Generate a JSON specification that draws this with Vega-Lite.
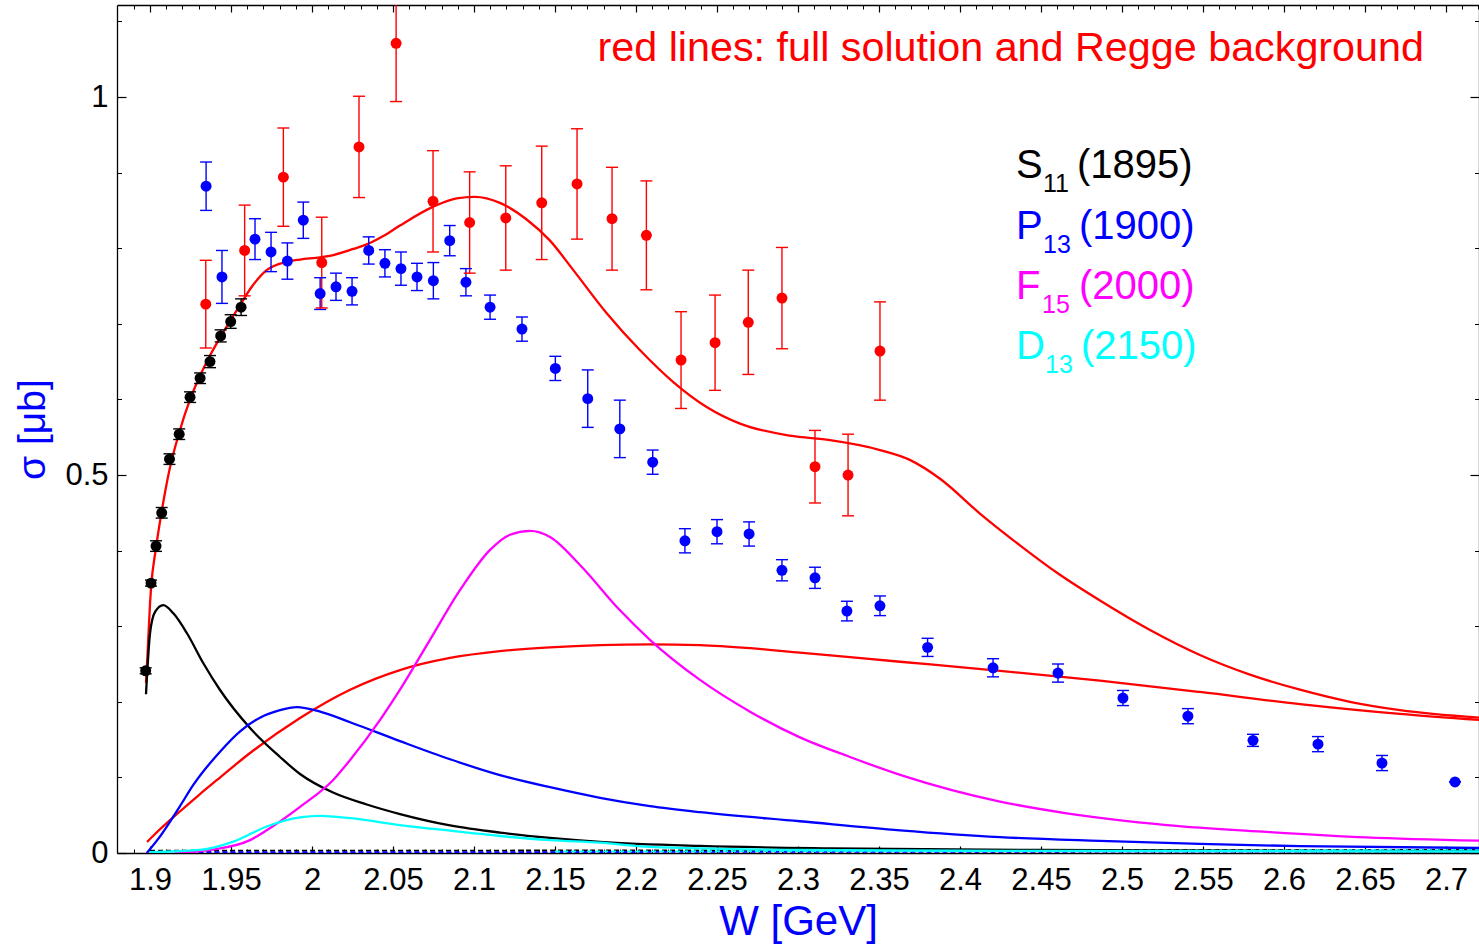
{
  "$schema": "https://vega.github.io/schema/vega-lite/v6.json",
  "width": 1362,
  "height": 848,
  "autosize": {"type": "none"},
  "padding": {"left": 117, "top": 5, "right": 0, "bottom": 91},
  "background": "white",
  "config": {
    "view": {"stroke": null},
    "axis": {"grid": false, "labelFont": "Liberation Sans", "titleFont": "Liberation Sans", "domainColor": "black", "tickColor": "black", "labelColor": "black"},
    "text": {"font": "Liberation Sans"}
  },
  "datasets": {
    "axisdummy": [{"W": 2.0, "sigma": 0.5}],
    "curves": [
      {"series": "full", "W": 1.8975, "sigma": 0.225},
      {"series": "full", "W": 1.8985, "sigma": 0.265},
      {"series": "full", "W": 1.9, "sigma": 0.33},
      {"series": "full", "W": 1.9006, "sigma": 0.35},
      {"series": "full", "W": 1.9037, "sigma": 0.404},
      {"series": "full", "W": 1.9072, "sigma": 0.452},
      {"series": "full", "W": 1.912, "sigma": 0.507},
      {"series": "full", "W": 1.918, "sigma": 0.556},
      {"series": "full", "W": 1.9247, "sigma": 0.6},
      {"series": "full", "W": 1.931, "sigma": 0.632},
      {"series": "full", "W": 1.937, "sigma": 0.658},
      {"series": "full", "W": 1.9436, "sigma": 0.683},
      {"series": "full", "W": 1.9498, "sigma": 0.705},
      {"series": "full", "W": 1.9562, "sigma": 0.727},
      {"series": "full", "W": 1.9628, "sigma": 0.749},
      {"series": "full", "W": 1.972, "sigma": 0.771},
      {"series": "full", "W": 1.9844, "sigma": 0.782},
      {"series": "full", "W": 1.9926, "sigma": 0.785},
      {"series": "full", "W": 2.005, "sigma": 0.788},
      {"series": "full", "W": 2.0132, "sigma": 0.791},
      {"series": "full", "W": 2.0255, "sigma": 0.799},
      {"series": "full", "W": 2.0338, "sigma": 0.805},
      {"series": "full", "W": 2.044, "sigma": 0.816},
      {"series": "full", "W": 2.0543, "sigma": 0.83},
      {"series": "full", "W": 2.0749, "sigma": 0.855},
      {"series": "full", "W": 2.0893, "sigma": 0.866},
      {"series": "full", "W": 2.1006, "sigma": 0.868},
      {"series": "full", "W": 2.116, "sigma": 0.86},
      {"series": "full", "W": 2.1325, "sigma": 0.838},
      {"series": "full", "W": 2.1469, "sigma": 0.81},
      {"series": "full", "W": 2.1613, "sigma": 0.771},
      {"series": "full", "W": 2.1819, "sigma": 0.714},
      {"series": "full", "W": 2.2025, "sigma": 0.665},
      {"series": "full", "W": 2.223, "sigma": 0.623},
      {"series": "full", "W": 2.2436, "sigma": 0.59},
      {"series": "full", "W": 2.2642, "sigma": 0.568},
      {"series": "full", "W": 2.295, "sigma": 0.552},
      {"series": "full", "W": 2.3198, "sigma": 0.546},
      {"series": "full", "W": 2.3506, "sigma": 0.533},
      {"series": "full", "W": 2.369, "sigma": 0.52},
      {"series": "full", "W": 2.3877, "sigma": 0.495},
      {"series": "full", "W": 2.4123, "sigma": 0.449},
      {"series": "full", "W": 2.437, "sigma": 0.407},
      {"series": "full", "W": 2.4617, "sigma": 0.368},
      {"series": "full", "W": 2.4864, "sigma": 0.334},
      {"series": "full", "W": 2.5173, "sigma": 0.295},
      {"series": "full", "W": 2.5481, "sigma": 0.262},
      {"series": "full", "W": 2.579, "sigma": 0.236},
      {"series": "full", "W": 2.6099, "sigma": 0.216},
      {"series": "full", "W": 2.6407, "sigma": 0.2},
      {"series": "full", "W": 2.6716, "sigma": 0.189},
      {"series": "full", "W": 2.7204, "sigma": 0.179},

      {"series": "Regge", "W": 1.89815, "sigma": 0.0146},
      {"series": "Regge", "W": 1.90309, "sigma": 0.0251},
      {"series": "Regge", "W": 1.91667, "sigma": 0.0516},
      {"series": "Regge", "W": 1.93086, "sigma": 0.078},
      {"series": "Regge", "W": 1.94136, "sigma": 0.0966},
      {"series": "Regge", "W": 1.96173, "sigma": 0.1323},
      {"series": "Regge", "W": 1.99259, "sigma": 0.1786},
      {"series": "Regge", "W": 2.0235, "sigma": 0.216},
      {"series": "Regge", "W": 2.0543, "sigma": 0.242},
      {"series": "Regge", "W": 2.0852, "sigma": 0.258},
      {"series": "Regge", "W": 2.116, "sigma": 0.267},
      {"series": "Regge", "W": 2.1469, "sigma": 0.272},
      {"series": "Regge", "W": 2.1778, "sigma": 0.275},
      {"series": "Regge", "W": 2.2086, "sigma": 0.276},
      {"series": "Regge", "W": 2.2395, "sigma": 0.275},
      {"series": "Regge", "W": 2.2704, "sigma": 0.271},
      {"series": "Regge", "W": 2.3012, "sigma": 0.265},
      {"series": "Regge", "W": 2.3321, "sigma": 0.259},
      {"series": "Regge", "W": 2.363, "sigma": 0.253},
      {"series": "Regge", "W": 2.4247, "sigma": 0.241},
      {"series": "Regge", "W": 2.4864, "sigma": 0.228},
      {"series": "Regge", "W": 2.5481, "sigma": 0.213},
      {"series": "Regge", "W": 2.6099, "sigma": 0.197},
      {"series": "Regge", "W": 2.6716, "sigma": 0.184},
      {"series": "Regge", "W": 2.7204, "sigma": 0.176},

      {"series": "S11", "W": 1.8975, "sigma": 0.21},
      {"series": "S11", "W": 1.9, "sigma": 0.291},
      {"series": "S11", "W": 1.9031, "sigma": 0.319},
      {"series": "S11", "W": 1.9082, "sigma": 0.328},
      {"series": "S11", "W": 1.9144, "sigma": 0.317},
      {"series": "S11", "W": 1.9227, "sigma": 0.291},
      {"series": "S11", "W": 1.9329, "sigma": 0.251},
      {"series": "S11", "W": 1.94321, "sigma": 0.2156},
      {"series": "S11", "W": 1.96173, "sigma": 0.1653},
      {"series": "S11", "W": 1.98025, "sigma": 0.127},
      {"series": "S11", "W": 1.99259, "sigma": 0.1045},
      {"series": "S11", "W": 2.01296, "sigma": 0.08},
      {"series": "S11", "W": 2.03333, "sigma": 0.0645},
      {"series": "S11", "W": 2.05432, "sigma": 0.0515},
      {"series": "S11", "W": 2.08519, "sigma": 0.0365},
      {"series": "S11", "W": 2.11605, "sigma": 0.027},
      {"series": "S11", "W": 2.14691, "sigma": 0.02},
      {"series": "S11", "W": 2.17778, "sigma": 0.0148},
      {"series": "S11", "W": 2.23951, "sigma": 0.0093},
      {"series": "S11", "W": 2.32, "sigma": 0.006},
      {"series": "S11", "W": 2.45, "sigma": 0.004},
      {"series": "S11", "W": 2.7204, "sigma": 0.002},

      {"series": "P13", "W": 1.898, "sigma": 0.0},
      {"series": "P13", "W": 1.9062, "sigma": 0.022},
      {"series": "P13", "W": 1.9185, "sigma": 0.062},
      {"series": "P13", "W": 1.9267, "sigma": 0.09},
      {"series": "P13", "W": 1.9432, "sigma": 0.134},
      {"series": "P13", "W": 1.9556, "sigma": 0.161},
      {"series": "P13", "W": 1.9679, "sigma": 0.179},
      {"series": "P13", "W": 1.9802, "sigma": 0.189},
      {"series": "P13", "W": 1.9907, "sigma": 0.193},
      {"series": "P13", "W": 2.005, "sigma": 0.187},
      {"series": "P13", "W": 2.0235, "sigma": 0.173},
      {"series": "P13", "W": 2.0543, "sigma": 0.148},
      {"series": "P13", "W": 2.0852, "sigma": 0.124},
      {"series": "P13", "W": 2.116, "sigma": 0.103},
      {"series": "P13", "W": 2.1469, "sigma": 0.087},
      {"series": "P13", "W": 2.1778, "sigma": 0.073},
      {"series": "P13", "W": 2.2086, "sigma": 0.062},
      {"series": "P13", "W": 2.2395, "sigma": 0.054},
      {"series": "P13", "W": 2.3012, "sigma": 0.042},
      {"series": "P13", "W": 2.363, "sigma": 0.03},
      {"series": "P13", "W": 2.4247, "sigma": 0.021},
      {"series": "P13", "W": 2.4864, "sigma": 0.016},
      {"series": "P13", "W": 2.5481, "sigma": 0.012},
      {"series": "P13", "W": 2.6099, "sigma": 0.009},
      {"series": "P13", "W": 2.7204, "sigma": 0.0066},

      {"series": "F15", "W": 1.915, "sigma": 0.0},
      {"series": "F15", "W": 1.937, "sigma": 0.004},
      {"series": "F15", "W": 1.9617, "sigma": 0.017},
      {"series": "F15", "W": 1.972, "sigma": 0.03},
      {"series": "F15", "W": 1.9926, "sigma": 0.061},
      {"series": "F15", "W": 2.0132, "sigma": 0.097},
      {"series": "F15", "W": 2.0235, "sigma": 0.123},
      {"series": "F15", "W": 2.042, "sigma": 0.176},
      {"series": "F15", "W": 2.0543, "sigma": 0.216},
      {"series": "F15", "W": 2.0728, "sigma": 0.282},
      {"series": "F15", "W": 2.0914, "sigma": 0.348},
      {"series": "F15", "W": 2.1099, "sigma": 0.401},
      {"series": "F15", "W": 2.1222, "sigma": 0.421},
      {"series": "F15", "W": 2.1346, "sigma": 0.426},
      {"series": "F15", "W": 2.1469, "sigma": 0.418},
      {"series": "F15", "W": 2.1654, "sigma": 0.381},
      {"series": "F15", "W": 2.1901, "sigma": 0.321},
      {"series": "F15", "W": 2.2086, "sigma": 0.282},
      {"series": "F15", "W": 2.2395, "sigma": 0.229},
      {"series": "F15", "W": 2.2704, "sigma": 0.187},
      {"series": "F15", "W": 2.3012, "sigma": 0.153},
      {"series": "F15", "W": 2.3321, "sigma": 0.127},
      {"series": "F15", "W": 2.365, "sigma": 0.102},
      {"series": "F15", "W": 2.4247, "sigma": 0.068},
      {"series": "F15", "W": 2.4659, "sigma": 0.0525},
      {"series": "F15", "W": 2.5276, "sigma": 0.037},
      {"series": "F15", "W": 2.5893, "sigma": 0.028},
      {"series": "F15", "W": 2.651, "sigma": 0.0207},
      {"series": "F15", "W": 2.7204, "sigma": 0.0163},

      {"series": "D13", "W": 1.9, "sigma": 0.001},
      {"series": "D13", "W": 1.9309, "sigma": 0.004},
      {"series": "D13", "W": 1.9514, "sigma": 0.015},
      {"series": "D13", "W": 1.972, "sigma": 0.035},
      {"series": "D13", "W": 1.9926, "sigma": 0.047},
      {"series": "D13", "W": 2.005, "sigma": 0.049},
      {"series": "D13", "W": 2.0235, "sigma": 0.046},
      {"series": "D13", "W": 2.0543, "sigma": 0.037},
      {"series": "D13", "W": 2.0852, "sigma": 0.0295},
      {"series": "D13", "W": 2.116, "sigma": 0.0225},
      {"series": "D13", "W": 2.1469, "sigma": 0.017},
      {"series": "D13", "W": 2.1778, "sigma": 0.0136},
      {"series": "D13", "W": 2.2086, "sigma": 0.008},
      {"series": "D13", "W": 2.3, "sigma": 0.004},
      {"series": "D13", "W": 2.4, "sigma": 0.003},
      {"series": "D13", "W": 2.7204, "sigma": 0.002}
    ],
    "dashed": [
      {"series": "S11o", "W": 1.9, "sigma": 0.003},
      {"series": "S11o", "W": 2.7204, "sigma": 0.004},
      {"series": "P13o", "W": 1.92, "sigma": 0.001},
      {"series": "P13o", "W": 2.7204, "sigma": 0.002},
      {"series": "D13o", "W": 2.15, "sigma": 0.002},
      {"series": "D13o", "W": 2.7204, "sigma": 0.004}
    ],
    "pts": [
      {"series": "dataBlack", "W": 1.8973, "sigma": 0.241, "lo": 0.237, "hi": 0.245},
      {"series": "dataBlack", "W": 1.9006, "sigma": 0.357, "lo": 0.353, "hi": 0.361},
      {"series": "dataBlack", "W": 1.9037, "sigma": 0.406, "lo": 0.399, "hi": 0.413},
      {"series": "dataBlack", "W": 1.9072, "sigma": 0.45, "lo": 0.443, "hi": 0.457},
      {"series": "dataBlack", "W": 1.912, "sigma": 0.521, "lo": 0.514, "hi": 0.528},
      {"series": "dataBlack", "W": 1.918, "sigma": 0.554, "lo": 0.547, "hi": 0.561},
      {"series": "dataBlack", "W": 1.9247, "sigma": 0.603, "lo": 0.596, "hi": 0.61},
      {"series": "dataBlack", "W": 1.9309, "sigma": 0.628, "lo": 0.621, "hi": 0.635},
      {"series": "dataBlack", "W": 1.937, "sigma": 0.65, "lo": 0.642, "hi": 0.658},
      {"series": "dataBlack", "W": 1.9436, "sigma": 0.684, "lo": 0.676, "hi": 0.692},
      {"series": "dataBlack", "W": 1.9498, "sigma": 0.703, "lo": 0.694, "hi": 0.712},
      {"series": "dataBlack", "W": 1.9562, "sigma": 0.722, "lo": 0.711, "hi": 0.733},

      {"series": "dataBlue", "W": 1.9346, "sigma": 0.882, "lo": 0.85, "hi": 0.914},
      {"series": "dataBlue", "W": 1.9444, "sigma": 0.762, "lo": 0.727, "hi": 0.797},
      {"series": "dataBlue", "W": 1.9648, "sigma": 0.812, "lo": 0.785, "hi": 0.839},
      {"series": "dataBlue", "W": 1.9747, "sigma": 0.795, "lo": 0.769, "hi": 0.821},
      {"series": "dataBlue", "W": 1.9848, "sigma": 0.783, "lo": 0.759, "hi": 0.807},
      {"series": "dataBlue", "W": 1.9946, "sigma": 0.837, "lo": 0.813, "hi": 0.861},
      {"series": "dataBlue", "W": 2.005, "sigma": 0.74, "lo": 0.719, "hi": 0.761},
      {"series": "dataBlue", "W": 2.0148, "sigma": 0.749, "lo": 0.731, "hi": 0.767},
      {"series": "dataBlue", "W": 2.0247, "sigma": 0.743, "lo": 0.725, "hi": 0.761},
      {"series": "dataBlue", "W": 2.035, "sigma": 0.797, "lo": 0.779, "hi": 0.815},
      {"series": "dataBlue", "W": 2.045, "sigma": 0.78, "lo": 0.762, "hi": 0.798},
      {"series": "dataBlue", "W": 2.0549, "sigma": 0.773, "lo": 0.751, "hi": 0.795},
      {"series": "dataBlue", "W": 2.0648, "sigma": 0.762, "lo": 0.744, "hi": 0.78},
      {"series": "dataBlue", "W": 2.0749, "sigma": 0.757, "lo": 0.733, "hi": 0.781},
      {"series": "dataBlue", "W": 2.085, "sigma": 0.81, "lo": 0.79, "hi": 0.83},
      {"series": "dataBlue", "W": 2.095, "sigma": 0.755, "lo": 0.737, "hi": 0.773},
      {"series": "dataBlue", "W": 2.1099, "sigma": 0.722, "lo": 0.706, "hi": 0.738},
      {"series": "dataBlue", "W": 2.1296, "sigma": 0.693, "lo": 0.677, "hi": 0.709},
      {"series": "dataBlue", "W": 2.1502, "sigma": 0.641, "lo": 0.625, "hi": 0.657},
      {"series": "dataBlue", "W": 2.1702, "sigma": 0.601, "lo": 0.563, "hi": 0.639},
      {"series": "dataBlue", "W": 2.19, "sigma": 0.561, "lo": 0.523, "hi": 0.599},
      {"series": "dataBlue", "W": 2.2103, "sigma": 0.517, "lo": 0.501, "hi": 0.533},
      {"series": "dataBlue", "W": 2.2302, "sigma": 0.413, "lo": 0.397, "hi": 0.429},
      {"series": "dataBlue", "W": 2.25, "sigma": 0.425, "lo": 0.409, "hi": 0.441},
      {"series": "dataBlue", "W": 2.2698, "sigma": 0.422, "lo": 0.406, "hi": 0.438},
      {"series": "dataBlue", "W": 2.2901, "sigma": 0.374, "lo": 0.36, "hi": 0.388},
      {"series": "dataBlue", "W": 2.3105, "sigma": 0.364, "lo": 0.35, "hi": 0.378},
      {"series": "dataBlue", "W": 2.3302, "sigma": 0.32, "lo": 0.307, "hi": 0.333},
      {"series": "dataBlue", "W": 2.3506, "sigma": 0.327, "lo": 0.314, "hi": 0.34},
      {"series": "dataBlue", "W": 2.38, "sigma": 0.272, "lo": 0.26, "hi": 0.284},
      {"series": "dataBlue", "W": 2.4204, "sigma": 0.245, "lo": 0.233, "hi": 0.257},
      {"series": "dataBlue", "W": 2.4605, "sigma": 0.238, "lo": 0.226, "hi": 0.25},
      {"series": "dataBlue", "W": 2.5006, "sigma": 0.205, "lo": 0.195, "hi": 0.215},
      {"series": "dataBlue", "W": 2.5407, "sigma": 0.181, "lo": 0.171, "hi": 0.191},
      {"series": "dataBlue", "W": 2.5809, "sigma": 0.149, "lo": 0.141, "hi": 0.157},
      {"series": "dataBlue", "W": 2.621, "sigma": 0.144, "lo": 0.134, "hi": 0.154},
      {"series": "dataBlue", "W": 2.6605, "sigma": 0.119, "lo": 0.109, "hi": 0.129},
      {"series": "dataBlue", "W": 2.7056, "sigma": 0.094, "lo": 0.094, "hi": 0.094},

      {"series": "dataRed", "W": 1.9344, "sigma": 0.726, "lo": 0.668, "hi": 0.784},
      {"series": "dataRed", "W": 1.9584, "sigma": 0.797, "lo": 0.737, "hi": 0.857},
      {"series": "dataRed", "W": 1.9823, "sigma": 0.894, "lo": 0.829, "hi": 0.959},
      {"series": "dataRed", "W": 2.006, "sigma": 0.781, "lo": 0.721, "hi": 0.841},
      {"series": "dataRed", "W": 2.029, "sigma": 0.934, "lo": 0.867, "hi": 1.001},
      {"series": "dataRed", "W": 2.0519, "sigma": 1.071, "lo": 0.994, "hi": 1.148},
      {"series": "dataRed", "W": 2.0747, "sigma": 0.862, "lo": 0.795, "hi": 0.929},
      {"series": "dataRed", "W": 2.0973, "sigma": 0.834, "lo": 0.767, "hi": 0.901},
      {"series": "dataRed", "W": 2.1196, "sigma": 0.84, "lo": 0.771, "hi": 0.909},
      {"series": "dataRed", "W": 2.1418, "sigma": 0.86, "lo": 0.785, "hi": 0.935},
      {"series": "dataRed", "W": 2.1636, "sigma": 0.885, "lo": 0.812, "hi": 0.958},
      {"series": "dataRed", "W": 2.1852, "sigma": 0.839, "lo": 0.771, "hi": 0.907},
      {"series": "dataRed", "W": 2.2064, "sigma": 0.817, "lo": 0.745, "hi": 0.889},
      {"series": "dataRed", "W": 2.2278, "sigma": 0.652, "lo": 0.588, "hi": 0.716},
      {"series": "dataRed", "W": 2.2488, "sigma": 0.675, "lo": 0.612, "hi": 0.738},
      {"series": "dataRed", "W": 2.2693, "sigma": 0.702, "lo": 0.633, "hi": 0.771},
      {"series": "dataRed", "W": 2.2901, "sigma": 0.734, "lo": 0.667, "hi": 0.801},
      {"series": "dataRed", "W": 2.3105, "sigma": 0.511, "lo": 0.463, "hi": 0.559},
      {"series": "dataRed", "W": 2.3309, "sigma": 0.5, "lo": 0.446, "hi": 0.554},
      {"series": "dataRed", "W": 2.3506, "sigma": 0.664, "lo": 0.599, "hi": 0.729}
    ],
    "labels": [
      {"series": "note", "part": "note", "text": "red lines: full solution and Regge background", "W": 2.17623, "sigma": 1.0476},
      {"series": "S11", "part": "main", "text": "S", "W": 2.43457, "sigma": 0.8929},
      {"series": "S11", "part": "sub", "text": "11", "W": 2.45123, "sigma": 0.8743},
      {"series": "S11", "part": "main", "text": "(1895)", "W": 2.47222, "sigma": 0.8929},
      {"series": "P13", "part": "main", "text": "P", "W": 2.43457, "sigma": 0.8122},
      {"series": "P13", "part": "sub", "text": "13", "W": 2.45123, "sigma": 0.7937},
      {"series": "P13", "part": "main", "text": "(1900)", "W": 2.47346, "sigma": 0.8122},
      {"series": "F15", "part": "main", "text": "F", "W": 2.43457, "sigma": 0.7328},
      {"series": "F15", "part": "sub", "text": "15", "W": 2.45062, "sigma": 0.7143},
      {"series": "F15", "part": "main", "text": "(2000)", "W": 2.47346, "sigma": 0.7328},
      {"series": "D13", "part": "main", "text": "D", "W": 2.43457, "sigma": 0.6534},
      {"series": "D13", "part": "sub", "text": "13", "W": 2.45247, "sigma": 0.6349},
      {"series": "D13", "part": "main", "text": "(2150)", "W": 2.47469, "sigma": 0.6534}
    ]
  },
  "layer": [
    {
      "data": {"name": "axisdummy"},
      "mark": {"type": "point", "opacity": 0},
      "encoding": {
        "x": {"field": "W", "type": "quantitative", "scale": {"domain": [1.8796, 2.7204], "nice": false, "zero": false},
          "axis": {"orient": "bottom", "values": [1.9, 1.95, 2, 2.05, 2.1, 2.15, 2.2, 2.25, 2.3, 2.35, 2.4, 2.45, 2.5, 2.55, 2.6, 2.65, 2.7], "format": "~g", "ticks": false, "domain": true, "domainColor": "black", "domainWidth": 1.3, "labelFontSize": 31, "labelPadding": 12, "labelFlush": false, "labelOverlap": false, "title": "W [GeV]", "titleColor": "#0000ff", "titleFontSize": 42, "titleFontWeight": "normal", "titlePadding": 6}},
        "y": {"field": "sigma", "type": "quantitative", "scale": {"domain": [0, 1.1217], "nice": false, "zero": false},
          "axis": {"orient": "left", "values": [0, 0.5, 1], "format": "~g", "ticks": false, "domain": true, "domainColor": "black", "domainWidth": 1.3, "labelFontSize": 31, "labelPadding": 9, "labelFlush": false, "labelOverlap": false, "title": "σ [μb]", "titleColor": "#0000ff", "titleFontSize": 39, "titleFontWeight": "normal", "titlePadding": 12}}
      }
    },
    {
      "data": {"name": "axisdummy"},
      "mark": {"type": "point", "opacity": 0},
      "encoding": {
        "x": {"field": "W", "type": "quantitative", "scale": {"domain": [1.8796, 2.7204], "nice": false, "zero": false},
          "axis": {"orient": "bottom", "values": [1.9, 1.95, 2, 2.05, 2.1, 2.15, 2.2, 2.25, 2.3, 2.35, 2.4, 2.45, 2.5, 2.55, 2.6, 2.65, 2.7], "labels": false, "domain": false, "ticks": true, "tickSize": -7, "tickWidth": 1.2, "tickColor": "black", "title": null}},
        "y": {"field": "sigma", "type": "quantitative", "scale": {"domain": [0, 1.1217], "nice": false, "zero": false},
          "axis": {"orient": "left", "values": [0, 0.5, 1], "labels": false, "domain": false, "ticks": true, "tickSize": -9, "tickWidth": 1.2, "tickColor": "black", "title": null}}
      }
    },
    {
      "data": {"name": "axisdummy"},
      "mark": {"type": "point", "opacity": 0},
      "encoding": {
        "x": {"field": "W", "type": "quantitative", "scale": {"domain": [1.8796, 2.7204], "nice": false, "zero": false},
          "axis": {"orient": "bottom", "values": [1.89, 1.91, 1.92, 1.93, 1.94, 1.96, 1.97, 1.98, 1.99, 2.01, 2.02, 2.03, 2.04, 2.06, 2.07, 2.08, 2.09, 2.11, 2.12, 2.13, 2.14, 2.16, 2.17, 2.18, 2.19, 2.21, 2.22, 2.23, 2.24, 2.26, 2.27, 2.28, 2.29, 2.31, 2.32, 2.33, 2.34, 2.36, 2.37, 2.38, 2.39, 2.41, 2.42, 2.43, 2.44, 2.46, 2.47, 2.48, 2.49, 2.51, 2.52, 2.53, 2.54, 2.56, 2.57, 2.58, 2.59, 2.61, 2.62, 2.63, 2.64, 2.66, 2.67, 2.68, 2.69, 2.71, 2.72], "labels": false, "domain": false, "ticks": true, "tickSize": -4, "tickWidth": 1, "tickColor": "black", "title": null}},
        "y": {"field": "sigma", "type": "quantitative", "scale": {"domain": [0, 1.1217], "nice": false, "zero": false},
          "axis": {"orient": "left", "values": [0.1, 0.2, 0.3, 0.4, 0.6, 0.7, 0.8, 0.9, 1.1], "labels": false, "domain": false, "ticks": true, "tickSize": -4.5, "tickWidth": 1, "tickColor": "black", "title": null}}
      }
    },
    {
      "data": {"name": "axisdummy"},
      "mark": {"type": "point", "opacity": 0},
      "encoding": {
        "x": {"field": "W", "type": "quantitative", "scale": {"domain": [1.8796, 2.7204], "nice": false, "zero": false},
          "axis": {"orient": "top", "values": [1.9, 1.95, 2, 2.05, 2.1, 2.15, 2.2, 2.25, 2.3, 2.35, 2.4, 2.45, 2.5, 2.55, 2.6, 2.65, 2.7], "labels": false, "domain": true, "domainColor": "black", "domainWidth": 1.3, "ticks": true, "tickSize": -7, "tickWidth": 1.2, "tickColor": "black", "title": null}},
        "y": {"field": "sigma", "type": "quantitative", "scale": {"domain": [0, 1.1217], "nice": false, "zero": false},
          "axis": {"orient": "right", "values": [0, 0.5, 1], "labels": false, "domain": true, "domainColor": "black", "domainWidth": 1.3, "ticks": true, "tickSize": -9, "tickWidth": 1.2, "tickColor": "black", "title": null}}
      }
    },
    {
      "data": {"name": "axisdummy"},
      "mark": {"type": "point", "opacity": 0},
      "encoding": {
        "x": {"field": "W", "type": "quantitative", "scale": {"domain": [1.8796, 2.7204], "nice": false, "zero": false},
          "axis": {"orient": "top", "values": [1.89, 1.91, 1.92, 1.93, 1.94, 1.96, 1.97, 1.98, 1.99, 2.01, 2.02, 2.03, 2.04, 2.06, 2.07, 2.08, 2.09, 2.11, 2.12, 2.13, 2.14, 2.16, 2.17, 2.18, 2.19, 2.21, 2.22, 2.23, 2.24, 2.26, 2.27, 2.28, 2.29, 2.31, 2.32, 2.33, 2.34, 2.36, 2.37, 2.38, 2.39, 2.41, 2.42, 2.43, 2.44, 2.46, 2.47, 2.48, 2.49, 2.51, 2.52, 2.53, 2.54, 2.56, 2.57, 2.58, 2.59, 2.61, 2.62, 2.63, 2.64, 2.66, 2.67, 2.68, 2.69, 2.71, 2.72], "labels": false, "domain": false, "ticks": true, "tickSize": -4, "tickWidth": 1, "tickColor": "black", "title": null}},
        "y": {"field": "sigma", "type": "quantitative", "scale": {"domain": [0, 1.1217], "nice": false, "zero": false},
          "axis": {"orient": "right", "values": [0.1, 0.2, 0.3, 0.4, 0.6, 0.7, 0.8, 0.9, 1.1], "labels": false, "domain": false, "ticks": true, "tickSize": -4.5, "tickWidth": 1, "tickColor": "black", "title": null}}
      }
    },
    {
      "data": {"name": "dashed"},
      "mark": {"type": "line", "strokeWidth": 1.8, "strokeDash": [5, 3], "clip": true},
      "encoding": {
        "x": {"field": "W", "type": "quantitative", "scale": {"domain": [1.8796, 2.7204], "nice": false, "zero": false}, "axis": null},
        "y": {"field": "sigma", "type": "quantitative", "scale": {"domain": [0, 1.1217], "nice": false, "zero": false}, "axis": null},
        "color": {"field": "series", "type": "nominal", "legend": null, "scale": {"domain": ["full", "Regge", "S11", "P13", "F15", "D13", "dataBlack", "dataBlue", "dataRed", "note", "S11o", "P13o", "D13o"], "range": ["#ff0000", "#ff0000", "#000000", "#0000ff", "#ff00ff", "#00ffff", "#000000", "#0000ff", "#ff0000", "#ff0000", "#000000", "#0000ff", "#00ffff"]}}
      }
    },
    {
      "data": {"name": "curves"},
      "mark": {"type": "line", "strokeWidth": 2.3, "interpolate": "monotone", "clip": true},
      "encoding": {
        "x": {"field": "W", "type": "quantitative", "scale": {"domain": [1.8796, 2.7204], "nice": false, "zero": false}, "axis": null},
        "y": {"field": "sigma", "type": "quantitative", "scale": {"domain": [0, 1.1217], "nice": false, "zero": false}, "axis": null},
        "color": {"field": "series", "type": "nominal", "legend": null, "scale": {"domain": ["full", "Regge", "S11", "P13", "F15", "D13", "dataBlack", "dataBlue", "dataRed", "note", "S11o", "P13o", "D13o"], "range": ["#ff0000", "#ff0000", "#000000", "#0000ff", "#ff00ff", "#00ffff", "#000000", "#0000ff", "#ff0000", "#ff0000", "#000000", "#0000ff", "#00ffff"]}}
      }
    },
    {
      "data": {"name": "pts"},
      "mark": {"type": "rule", "strokeWidth": 1.4, "clip": true},
      "encoding": {
        "x": {"field": "W", "type": "quantitative", "scale": {"domain": [1.8796, 2.7204], "nice": false, "zero": false}, "axis": null},
        "y": {"field": "lo", "type": "quantitative", "scale": {"domain": [0, 1.1217], "nice": false, "zero": false}, "axis": null},
        "y2": {"field": "hi"},
        "color": {"field": "series", "type": "nominal", "legend": null, "scale": {"domain": ["full", "Regge", "S11", "P13", "F15", "D13", "dataBlack", "dataBlue", "dataRed", "note", "S11o", "P13o", "D13o"], "range": ["#ff0000", "#ff0000", "#000000", "#0000ff", "#ff00ff", "#00ffff", "#000000", "#0000ff", "#ff0000", "#ff0000", "#000000", "#0000ff", "#00ffff"]}}
      }
    },
    {
      "data": {"name": "pts"},
      "mark": {"type": "tick", "orient": "horizontal", "size": 12, "thickness": 1.4, "clip": true, "opacity": 1},
      "encoding": {
        "x": {"field": "W", "type": "quantitative", "scale": {"domain": [1.8796, 2.7204], "nice": false, "zero": false}, "axis": null},
        "y": {"field": "lo", "type": "quantitative", "scale": {"domain": [0, 1.1217], "nice": false, "zero": false}, "axis": null},
        "color": {"field": "series", "type": "nominal", "legend": null, "scale": {"domain": ["full", "Regge", "S11", "P13", "F15", "D13", "dataBlack", "dataBlue", "dataRed", "note", "S11o", "P13o", "D13o"], "range": ["#ff0000", "#ff0000", "#000000", "#0000ff", "#ff00ff", "#00ffff", "#000000", "#0000ff", "#ff0000", "#ff0000", "#000000", "#0000ff", "#00ffff"]}}
      }
    },
    {
      "data": {"name": "pts"},
      "mark": {"type": "tick", "orient": "horizontal", "size": 12, "thickness": 1.4, "clip": true, "opacity": 1},
      "encoding": {
        "x": {"field": "W", "type": "quantitative", "scale": {"domain": [1.8796, 2.7204], "nice": false, "zero": false}, "axis": null},
        "y": {"field": "hi", "type": "quantitative", "scale": {"domain": [0, 1.1217], "nice": false, "zero": false}, "axis": null},
        "color": {"field": "series", "type": "nominal", "legend": null, "scale": {"domain": ["full", "Regge", "S11", "P13", "F15", "D13", "dataBlack", "dataBlue", "dataRed", "note", "S11o", "P13o", "D13o"], "range": ["#ff0000", "#ff0000", "#000000", "#0000ff", "#ff00ff", "#00ffff", "#000000", "#0000ff", "#ff0000", "#ff0000", "#000000", "#0000ff", "#00ffff"]}}
      }
    },
    {
      "data": {"name": "pts"},
      "mark": {"type": "circle", "size": 120, "opacity": 1, "clip": true},
      "encoding": {
        "x": {"field": "W", "type": "quantitative", "scale": {"domain": [1.8796, 2.7204], "nice": false, "zero": false}, "axis": null},
        "y": {"field": "sigma", "type": "quantitative", "scale": {"domain": [0, 1.1217], "nice": false, "zero": false}, "axis": null},
        "color": {"field": "series", "type": "nominal", "legend": null, "scale": {"domain": ["full", "Regge", "S11", "P13", "F15", "D13", "dataBlack", "dataBlue", "dataRed", "note", "S11o", "P13o", "D13o"], "range": ["#ff0000", "#ff0000", "#000000", "#0000ff", "#ff00ff", "#00ffff", "#000000", "#0000ff", "#ff0000", "#ff0000", "#000000", "#0000ff", "#00ffff"]}}
      }
    },
    {
      "data": {"name": "labels"},
      "transform": [{"filter": "datum.part === 'note'"}],
      "mark": {"type": "text", "align": "left", "baseline": "alphabetic", "fontSize": 41.3, "font": "Liberation Sans"},
      "encoding": {
        "x": {"field": "W", "type": "quantitative", "scale": {"domain": [1.8796, 2.7204], "nice": false, "zero": false}, "axis": null},
        "y": {"field": "sigma", "type": "quantitative", "scale": {"domain": [0, 1.1217], "nice": false, "zero": false}, "axis": null},
        "text": {"field": "text"},
        "color": {"field": "series", "type": "nominal", "legend": null, "scale": {"domain": ["full", "Regge", "S11", "P13", "F15", "D13", "dataBlack", "dataBlue", "dataRed", "note", "S11o", "P13o", "D13o"], "range": ["#ff0000", "#ff0000", "#000000", "#0000ff", "#ff00ff", "#00ffff", "#000000", "#0000ff", "#ff0000", "#ff0000", "#000000", "#0000ff", "#00ffff"]}}
      }
    },
    {
      "data": {"name": "labels"},
      "transform": [{"filter": "datum.part === 'main'"}],
      "mark": {"type": "text", "align": "left", "baseline": "alphabetic", "fontSize": 40, "font": "Liberation Sans"},
      "encoding": {
        "x": {"field": "W", "type": "quantitative", "scale": {"domain": [1.8796, 2.7204], "nice": false, "zero": false}, "axis": null},
        "y": {"field": "sigma", "type": "quantitative", "scale": {"domain": [0, 1.1217], "nice": false, "zero": false}, "axis": null},
        "text": {"field": "text"},
        "color": {"field": "series", "type": "nominal", "legend": null, "scale": {"domain": ["full", "Regge", "S11", "P13", "F15", "D13", "dataBlack", "dataBlue", "dataRed", "note", "S11o", "P13o", "D13o"], "range": ["#ff0000", "#ff0000", "#000000", "#0000ff", "#ff00ff", "#00ffff", "#000000", "#0000ff", "#ff0000", "#ff0000", "#000000", "#0000ff", "#00ffff"]}}
      }
    },
    {
      "data": {"name": "labels"},
      "transform": [{"filter": "datum.part === 'sub'"}],
      "mark": {"type": "text", "align": "left", "baseline": "alphabetic", "fontSize": 25, "font": "Liberation Sans"},
      "encoding": {
        "x": {"field": "W", "type": "quantitative", "scale": {"domain": [1.8796, 2.7204], "nice": false, "zero": false}, "axis": null},
        "y": {"field": "sigma", "type": "quantitative", "scale": {"domain": [0, 1.1217], "nice": false, "zero": false}, "axis": null},
        "text": {"field": "text"},
        "color": {"field": "series", "type": "nominal", "legend": null, "scale": {"domain": ["full", "Regge", "S11", "P13", "F15", "D13", "dataBlack", "dataBlue", "dataRed", "note", "S11o", "P13o", "D13o"], "range": ["#ff0000", "#ff0000", "#000000", "#0000ff", "#ff00ff", "#00ffff", "#000000", "#0000ff", "#ff0000", "#ff0000", "#000000", "#0000ff", "#00ffff"]}}
      }
    }
  ],
  "resolve": {"axis": {"x": "independent", "y": "independent"}}
}
